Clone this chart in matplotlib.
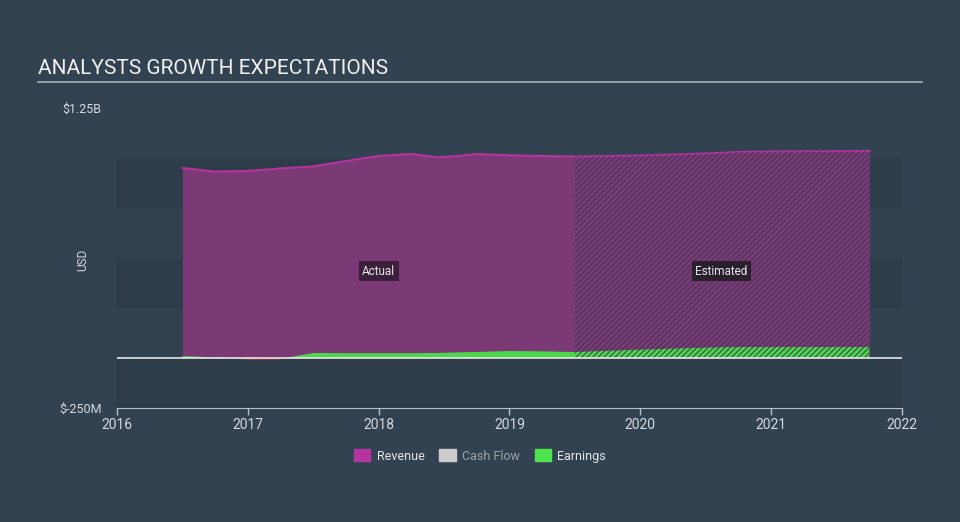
import matplotlib.pyplot as plt
from matplotlib.patches import Patch

plt.rcParams["font.family"] = ["Roboto", "DejaVu Sans"]
plt.rcParams["hatch.linewidth"] = 0.7

# dados (anos decimais, valores em milhoes de USD)
anos_real = [2016.5, 2016.75, 2017.0, 2017.25, 2017.5, 2017.75, 2018.0, 2018.25,
             2018.45, 2018.6, 2018.75, 2019.0, 2019.25, 2019.5]
receita_real = [950, 932, 935, 948, 958, 985, 1010, 1020, 1003, 1010, 1020, 1013, 1010, 1007]
lucro_real = [10, 3, -5, -4, 25, 24, 24, 24, 25, 28, 30, 35, 33, 30]

anos_est = [2019.5, 2020.0, 2020.5, 2020.75, 2021.0, 2021.75]
receita_est = [1007, 1012, 1022, 1030, 1032, 1035]
lucro_est = [30, 42, 52, 55, 55, 55]

anos_ticks = [2016, 2017, 2018, 2019, 2020, 2021, 2022]

COR_FUNDO = "#334251"
COR_FAIXA = "#2e3b49"
COR_RECEITA = "#7b3a76"
COR_LINHA_RECEITA = "#b5349f"
COR_LUCRO = "#4cd64c"
COR_TEXTO = "#d6d9dd"

fig = plt.figure(figsize=(9.6, 5.22), dpi=100, facecolor=COR_FUNDO)
ax = fig.add_axes([117 / 960, 1 - 408 / 522, 785 / 960, 300 / 522])
ax.set_facecolor(COR_FUNDO)

# faixas horizontais
for y0, y1 in [(750, 1000), (250, 500), (-250, 0)]:
    ax.axhspan(y0, y1, color=COR_FAIXA, lw=0, zorder=0)

anos = anos_real + anos_est[1:]
receita = receita_real + receita_est[1:]
lucro = lucro_real + lucro_est[1:]

ax.fill_between(anos, 0, receita, color=COR_RECEITA, lw=0, zorder=1)
ax.plot(anos, receita, color=COR_LINHA_RECEITA, lw=1.5, zorder=3)

ax.fill_between(anos, 0, lucro, where=[v >= 0 for v in lucro], interpolate=True,
                color=COR_LUCRO, lw=0, zorder=2)
ax.fill_between(anos, 0, lucro, where=[v < 0 for v in lucro], interpolate=True,
                color="#e8463c", lw=0, zorder=2)

# hachura da parte estimada
ax.fill_between(anos_est, 0, receita_est, facecolor="none", edgecolor="#3a3550",
                hatch="//////", lw=0, zorder=4)

ax.axhline(0, color="#e8e8e8", lw=1.2, zorder=5)

ax.text(2018.0, 435, "Actual", color="#e6e6e6", fontsize=8.5, ha="center", va="center",
        bbox=dict(boxstyle="square,pad=0.3", fc="#3b1f3b", ec="none"), zorder=6)
ax.text(2020.62, 435, "Estimated", color="#e6e6e6", fontsize=8.5, ha="center", va="center",
        bbox=dict(boxstyle="square,pad=0.3", fc="#2a1f2d", ec="none"), zorder=6)

ax.set_xlim(2016, 2022)
ax.set_ylim(-250, 1250)
ax.set_xticks(anos_ticks)
ax.set_xticklabels([str(a) for a in anos_ticks], color=COR_TEXTO, fontsize=10)
ax.set_yticks([-250, 1250])
ax.set_yticklabels(["$-250M", "$1.25B"], color=COR_TEXTO, fontsize=9)
ax.tick_params(axis="y", length=0, pad=11)
ax.tick_params(axis="x", length=5, width=1, color="#b8c0c8", pad=2)
for lado in ["top", "right", "left"]:
    ax.spines[lado].set_visible(False)
ax.spines["bottom"].set_color("#b8c0c8")

fig.text(83 / 960, 1 - 260 / 522, "USD", color=COR_TEXTO, fontsize=8.5,
         rotation=90, ha="center", va="center")

fig.text(38 / 960, 1 - 68 / 522, "ANALYSTS GROWTH EXPECTATIONS", color="#f0f0f0",
         fontsize=15, va="center", ha="left")
fig.add_artist(plt.Line2D([38 / 960, 922 / 960], [1 - 82 / 522, 1 - 82 / 522],
                          color="#a8b0b8", lw=1.2))

itens = [Patch(color="#b5349f", label="Revenue"),
         Patch(color="#cccccc", label="Cash Flow"),
         Patch(color="#4ee24e", label="Earnings")]
leg = fig.legend(handles=itens, loc="center", bbox_to_anchor=(0.5, 1 - 456 / 522),
                 ncol=3, frameon=False, fontsize=9, handlelength=1.3, handleheight=1.1,
                 columnspacing=1.2, handletextpad=0.5)
for txt, cor in zip(leg.get_texts(), ["#e6e6e6", "#9aa2aa", "#e6e6e6"]):
    txt.set_color(cor)

fig.savefig("out.png", dpi=100, facecolor=COR_FUNDO)
